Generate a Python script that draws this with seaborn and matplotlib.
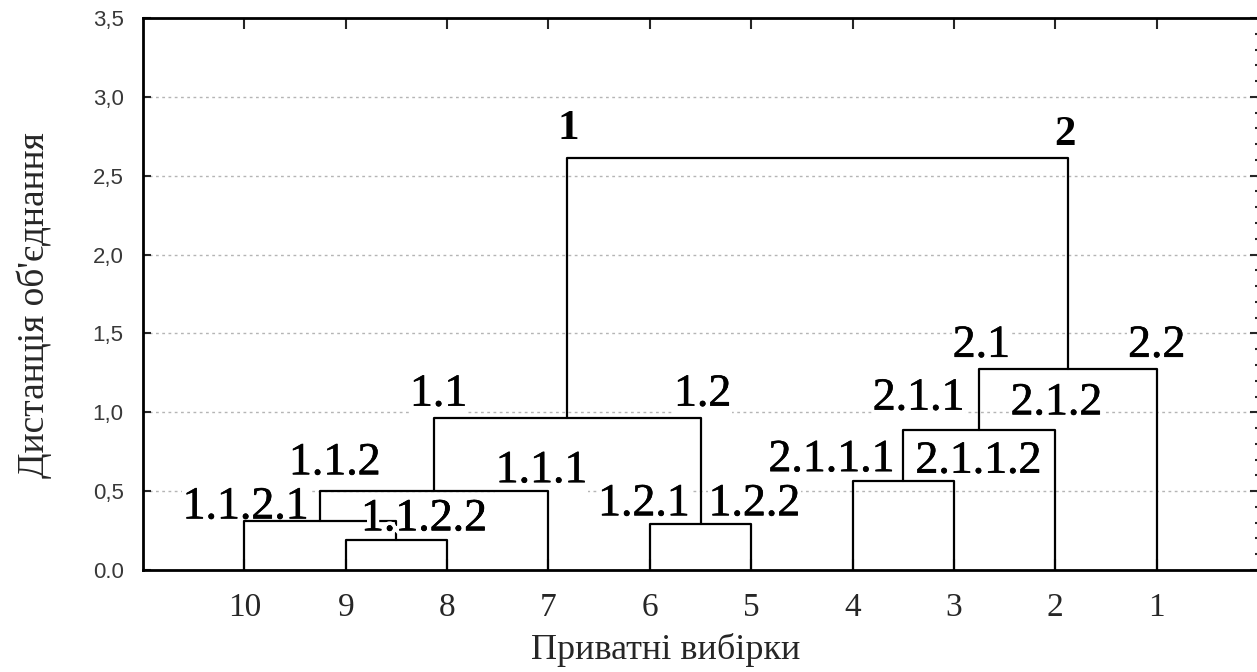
import matplotlib
matplotlib.use("Agg")
import matplotlib.pyplot as plt
import matplotlib.patheffects as pe
from matplotlib.ticker import MultipleLocator
import pandas as pd
import seaborn as sns

# leaves of the tree, left to right
leaves = ["10", "9", "8", "7", "6", "5", "4", "3", "2", "1"]

# joins: node = left + right at a linkage distance
node_names = ["a", "b", "c", "d", "e", "f", "g", "h", "i"]
node_left = ["9", "10", "b", "6", "c", "4", "f", "g", "e"]
node_right = ["8", "a", "7", "5", "d", "3", "2", "1", "h"]
node_height = [0.19, 0.31, 0.50, 0.29, 0.965, 0.565, 0.89, 1.275, 2.615]

# cluster codes written over the branches
branch_codes = ["1", "2", "1.1", "1.2", "1.1.2", "1.1.1", "1.1.2.1", "1.1.2.2",
                "1.2.1", "1.2.2", "2.1", "2.2", "2.1.1", "2.1.2", "2.1.1.1", "2.1.1.2"]
branch_of = ["e", "h", "c", "d", "b", "7", "10", "a",
             "6", "5", "g", "1", "f", "2", "4", "3"]

y_ticks = [0.0, 0.5, 1.0, 1.5, 2.0, 2.5, 3.0, 3.5]
y_tick_labels = ["0.0", "0,5", "1,0", "1,5", "2,0", "2,5", "3,0", "3,5"]
x_title = "Приватні вибірки"
y_title = "Дистанція об'єднання"

# label nudges (dx, dy) from the branch top, in data units
nudge = {
    "1": (0.01, 0.21), "2": (-0.03, 0.17), "1.1": (0.04, 0.18), "1.2": (0.02, 0.18),
    "1.1.2": (0.14, 0.21), "1.1.1": (-0.07, 0.16), "1.1.2.1": (0.01, 0.12),
    "1.1.2.2": (0.27, 0.045), "1.2.1": (-0.06, 0.16), "1.2.2": (0.03, 0.16),
    "2.1": (0.02, 0.18), "2.2": (0.0, 0.18), "2.1.1": (0.15, 0.23),
    "2.1.2": (0.01, 0.20), "2.1.1.1": (-0.21, 0.165), "2.1.1.2": (0.24, 0.155),
}
on_top = ["1.1.2.2"]

sns.set_style("ticks")
plt.rcParams["font.family"] = ["Liberation Serif", "DejaVu Serif"]

# node positions and heights
pos = {name: i + 1 for i, name in enumerate(leaves)}
height = {name: 0.0 for name in leaves}
parent_h = {}
rows = []
for n, l, r, h in zip(node_names, node_left, node_right, node_height):
    pos[n] = (pos[l] + pos[r]) / 2
    height[n] = h
    parent_h[l] = h
    parent_h[r] = h
    for x, y in [(pos[l], height[l]), (pos[l], h), (pos[r], h), (pos[r], height[r])]:
        rows.append({"link": n, "x": x, "y": y})
links = pd.DataFrame(rows)

fig = plt.figure(figsize=(12.57, 6.72), dpi=100)
ax = fig.add_axes([0.1138, 0.1518, 0.8870, 0.8214])

sns.lineplot(data=links, x="x", y="y", units="link", estimator=None, sort=False,
             color="black", linewidth=1.6, legend=False, ax=ax, zorder=3)

ax.set_xlim(0, 11)
ax.set_ylim(0, 3.5)
ax.set_xticks(range(1, len(leaves) + 1))
ax.set_xticklabels(leaves, fontsize=24)
ax.set_yticks(y_ticks)
ax.set_yticklabels(y_tick_labels, fontsize=16, family="Liberation Sans", color="#383838")
ax.yaxis.set_minor_locator(MultipleLocator(0.1))

ax.tick_params(axis="x", which="both", direction="in", length=8, width=1.5,
               top=True, pad=16)
ax.tick_params(axis="y", which="major", direction="in", length=6, width=1.5,
               right=True, pad=14)
ax.tick_params(axis="y", which="minor", direction="in", length=2, width=1.5,
               left=False, right=True)
for s in ax.spines.values():
    s.set_linewidth(2)
    s.set_color("black")

ax.grid(axis="y", which="major", color="#b5b5b5", linestyle=(0, (2, 2.5)),
        linewidth=1.0, zorder=0.5)
ax.set_axisbelow(True)

# slightly heavier glyphs, like the original
heavy = [pe.Stroke(linewidth=0.45, foreground="black"), pe.Normal()]

for code, br in zip(branch_codes, branch_of):
    dx, dy = nudge[code]
    x = pos[br] + dx
    y = parent_h[br] + dy
    bold = code in ("1", "2")
    effects = [] if bold else heavy
    kw = dict(ha="center", va="center_baseline", fontsize=31 if bold else 33,
              fontweight="bold" if bold else "normal", color="black")
    ax.text(x, y, code, zorder=2.5, path_effects=effects,
            bbox=dict(boxstyle="square,pad=0.02", facecolor="white", edgecolor="none"),
            **kw)
    if code in on_top:
        ax.text(x, y, code, zorder=4,
                path_effects=[pe.withStroke(linewidth=6, foreground="white")] + effects,
                **kw)

ax.set_xlabel(x_title, fontsize=26)
ax.xaxis.set_label_coords(0.469, -0.115)
ax.set_ylabel(y_title, fontsize=27)
ax.yaxis.set_label_coords(-0.082, 0.48)

fig.savefig("out.png", dpi=100)
